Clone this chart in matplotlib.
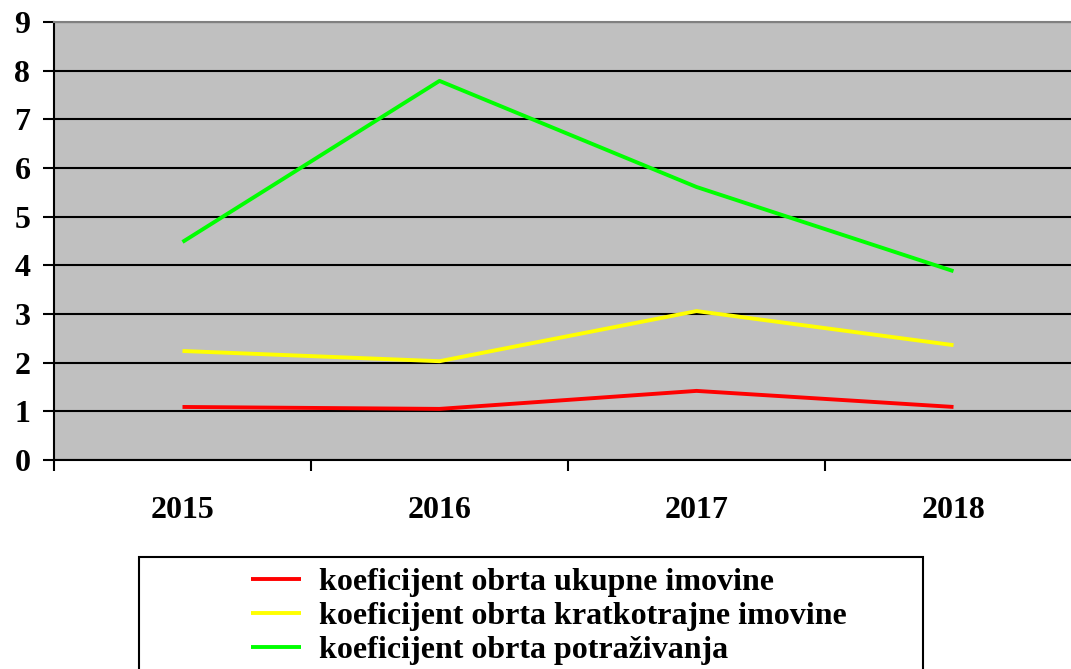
import matplotlib
matplotlib.use("Agg")
from matplotlib import pyplot as plt
from matplotlib.patches import Rectangle

years = ["2015", "2016", "2017", "2018"]
ukupne = [1.09, 1.05, 1.42, 1.09]
kratkotrajne = [2.24, 2.03, 3.06, 2.36]
potrazivanja = [4.48, 7.79, 5.61, 3.88]
labels = [
    "koeficijent obrta ukupne imovine",
    "koeficijent obrta kratkotrajne imovine",
    "koeficijent obrta potraživanja",
]
colors = ["#FF0000", "#FFFF00", "#00FF00"]

W, H = 1071, 669
plt.rcParams["font.family"] = ["Liberation Serif", "DejaVu Serif"]
plt.rcParams["font.weight"] = "bold"

fig = plt.figure(figsize=(W / 100, H / 100), dpi=100)
left, right, top, bottom = 54, 1082, 22, 460
ax = fig.add_axes([left / W, 1 - bottom / H, (right - left) / W, (bottom - top) / H])
ax.set_facecolor("#C0C0C0")

x = list(range(len(years)))
for vals, lab, col in zip([ukupne, kratkotrajne, potrazivanja], labels, colors):
    ax.plot(x, vals, color=col, lw=2.8, label=lab, solid_capstyle="butt")

ax.set_xlim(-0.5, len(years) - 0.5)
ax.set_ylim(0, 9)
ax.set_yticks(range(10))
ax.yaxis.grid(True, color="black", lw=1.5)
ax.set_axisbelow(True)

# category boundaries carry the tick marks, labels sit in the middle
ax.set_xticks([i - 0.5 for i in range(len(years) + 1)])
ax.set_xticklabels([])
ax.set_xticks(x, minor=True)
ax.set_xticklabels(years, minor=True, fontsize=23, fontweight="bold")
ax.tick_params(axis="x", which="minor", length=0, pad=26)
ax.tick_params(axis="x", which="major", length=8, width=1.5, direction="out")
ax.tick_params(axis="y", length=8, width=1.5, direction="out", labelsize=23, pad=9)
for lbl in ax.get_yticklabels():
    lbl.set_fontweight("bold")

ax.spines["top"].set_color("#808080")
ax.spines["top"].set_linewidth(1.5)
ax.spines["right"].set_visible(False)
for s in ("left", "bottom"):
    ax.spines[s].set_color("black")
    ax.spines[s].set_linewidth(1.5)

# legend box
fig.patches.append(Rectangle((139 / W, -0.1), (923 - 139) / W, 1 - 557 / H + 0.1,
                             transform=fig.transFigure, facecolor="white",
                             edgecolor="black", lw=1.5))
fs = 23
fpx = fs * 100 / 72
handles, labs = ax.get_legend_handles_labels()
fig.legend(handles, labs, loc="upper left", bbox_to_anchor=(251 / W, 1 - 568 / H),
           frameon=False, borderpad=0, borderaxespad=0, handlelength=50 / fpx,
           handletextpad=18 / fpx, labelspacing=0.14,
           prop={"family": "Liberation Serif", "weight": "bold", "size": fs})

fig.savefig("out.png", dpi=100)
